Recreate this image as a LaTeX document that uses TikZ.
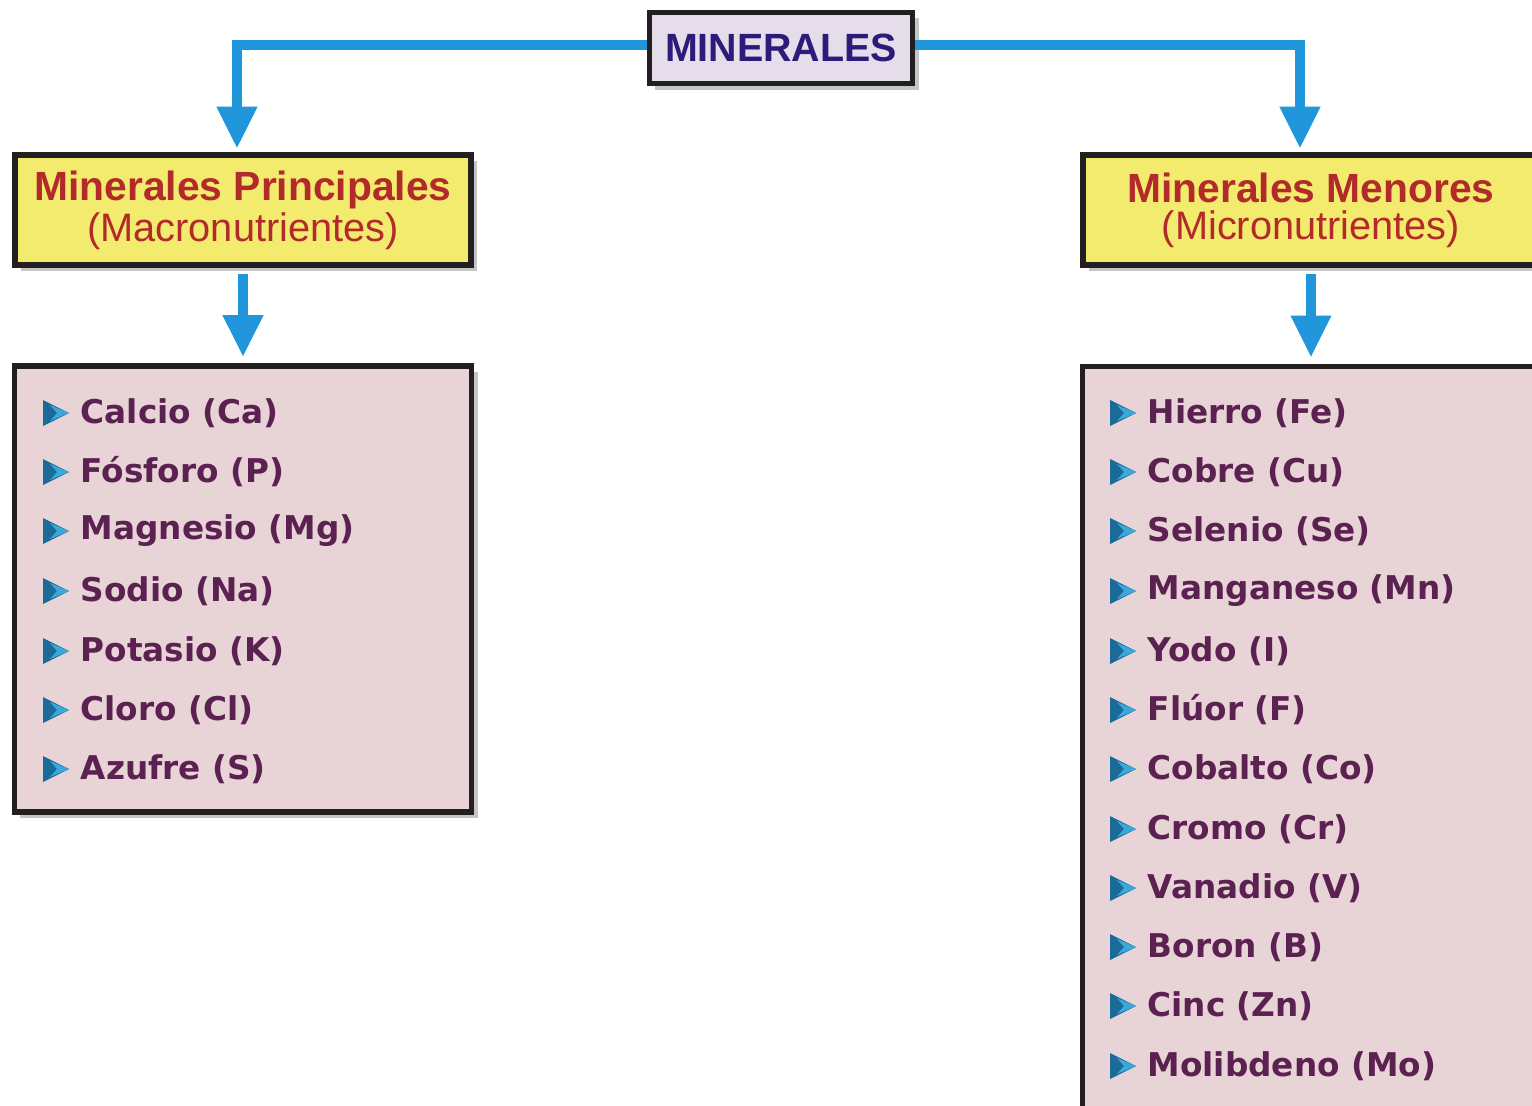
\documentclass[tikz,border=0pt]{standalone}
\usepackage{fontspec}
\setmainfont{DejaVu Sans}
\newfontfamily\headfont{Liberation Sans}
\usetikzlibrary{arrows.meta,shadows}
\definecolor{linkblue}{HTML}{2196DA}
\definecolor{boxline}{HTML}{231F20}
\definecolor{titlefill}{HTML}{E5DDE9}
\definecolor{titletext}{HTML}{2B1B7A}
\definecolor{headfill}{HTML}{F3EB6E}
\definecolor{headtext}{HTML}{B22A2A}
\definecolor{listfill}{HTML}{E8D3D6}
\definecolor{itemtext}{HTML}{5B2150}
\definecolor{bulletdark}{HTML}{1B6A98}
\definecolor{bulletlight}{HTML}{3AA8D8}

\begin{document}
\begin{tikzpicture}[x=0.01cm,y=-0.01cm,
  box/.style={draw=boxline,line width=0.55mm,inner sep=0pt,
    drop shadow={shadow xshift=0.6mm,shadow yshift=-0.6mm,fill=black!45,opacity=0.5}},
  titlebox/.style={box,fill=titlefill,text=titletext,minimum width=2.63cm,minimum height=0.71cm,
    font=\headfont\bfseries\fontsize{11.2}{13}\selectfont},
  headbox/.style={box,fill=headfill,text=headtext,minimum width=4.56cm,minimum height=1.10cm,
    align=center,font=\headfont\fontsize{11.3}{10.5}\selectfont},
  listbox/.style={box,fill=listfill,minimum width=4.57cm},
  link/.style={draw=linkblue,line width=1mm,-{Triangle[width=3.8mm,length=4.2mm]}},
  item/.style={anchor=west,inner sep=0pt,text=itemtext,font=\bfseries\fontsize{9.3}{11}\selectfont}]
  \useasboundingbox (0,0) rectangle (1532,1106);
  \clip (0,0) rectangle (1532,1106);
  \fill[white] (0,0) rectangle (1532,1106);

  % boxes
  \node[titlebox] (min) at (781,48) {MINERALES};
  \node[headbox] (macro) at (243,210) {{\bfseries\fontsize{11.6}{10.5}\selectfont Minerales Principales}\\(Macronutrientes)};
  \node[headbox] (micro) at (1311,210) {{\bfseries\fontsize{11.6}{10.5}\selectfont Minerales Menores}\\(Micronutrientes)};
  \node[listbox,minimum height=4.46cm] (macrolist) at (243,589) {};
  \node[listbox,minimum height=7.43cm] (microlist) at (1311,738) {};

  % connectors
  \draw[link,shorten >=0.35mm] ([yshift=0.3mm]min.west) -| ([xshift=-0.6mm]macro.north);
  \draw[link,shorten >=0.35mm] ([yshift=0.3mm]min.east) -| ([xshift=-1.1mm]micro.north);
  \draw[link,shorten <=0.6mm,shorten >=0.6mm] (macro.south) -- (macrolist.north);
  \draw[link,shorten <=0.6mm,shorten >=0.6mm] (micro.south) -- (microlist.north);

  % items
  \foreach \y/\txt [count=\i] in {413/{Calcio (Ca)},472/{Fósforo (P)},531/{Magnesio (Mg)},
    591/{Sodio (Na)},651/{Potasio (K)},710/{Cloro (Cl)},769/{Azufre (S)}} {
    \node[item] (ma\i) at (80,\y) {\txt};
    \fill[bulletdark] (ma\i.west) ++(-37,-13) -- ++(26,13) -- ++(-26,13) -- cycle;
    \fill[bulletlight] (ma\i.west) ++(-30,-8) -- ++(19,8) -- ++(-19,8) -- ++(7,-8) -- cycle;
  }
  \foreach \y/\txt [count=\i] in {413/{Hierro (Fe)},472/{Cobre (Cu)},531/{Selenio (Se)},
    591/{Manganeso (Mn)},651/{Yodo (I)},710/{Flúor (F)},769/{Cobalto (Co)},829/{Cromo (Cr)},
    888/{Vanadio (V)},947/{Boron (B)},1006/{Cinc (Zn)},1066/{Molibdeno (Mo)}} {
    \node[item] (mi\i) at (1147,\y) {\txt};
    \fill[bulletdark] (mi\i.west) ++(-37,-13) -- ++(26,13) -- ++(-26,13) -- cycle;
    \fill[bulletlight] (mi\i.west) ++(-30,-8) -- ++(19,8) -- ++(-19,8) -- ++(7,-8) -- cycle;
  }
\end{tikzpicture}
\end{document}
